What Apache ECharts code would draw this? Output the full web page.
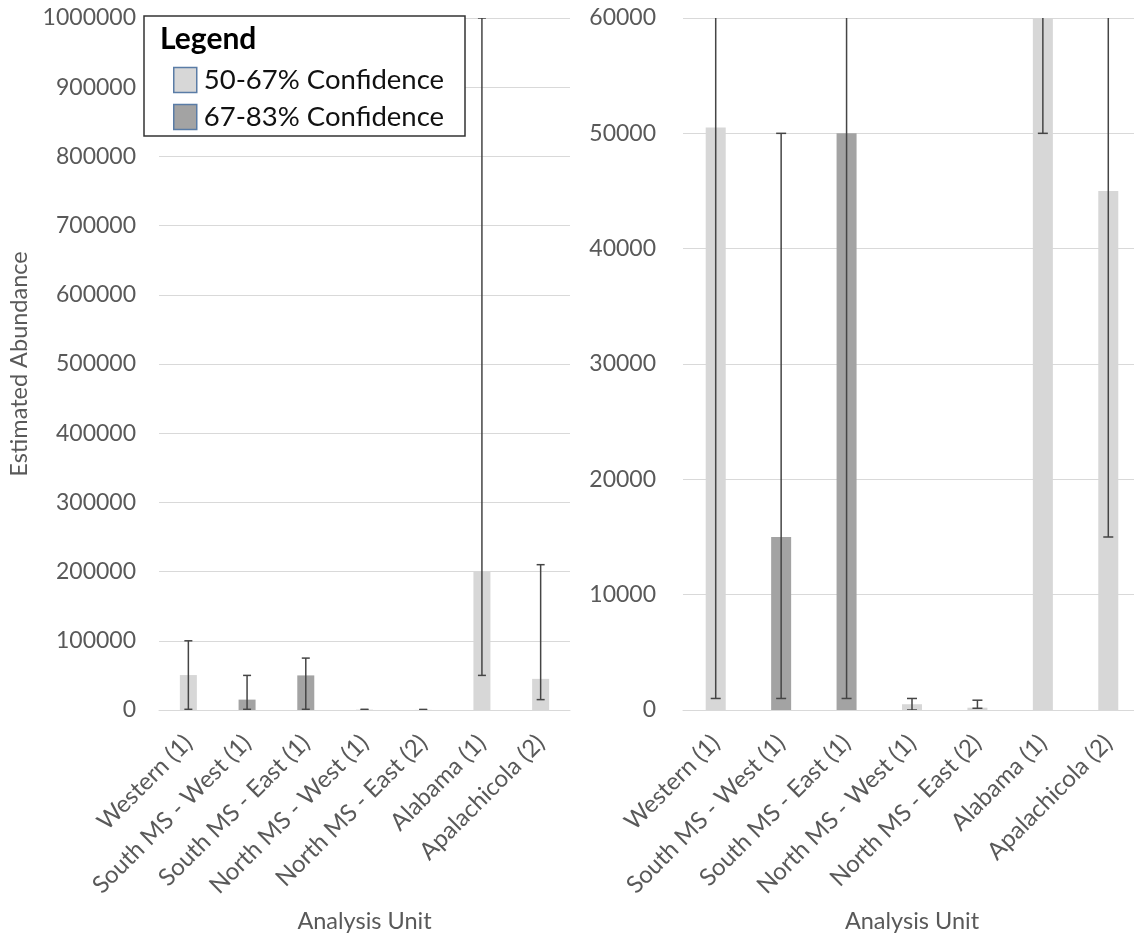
<!DOCTYPE html>
<html>
<head>
<meta charset="utf-8">
<script src="https://cdn.jsdelivr.net/npm/echarts@6/dist/echarts.min.js"></script>
<style>
html,body{margin:0;padding:0;background:#fff;}
#chart{width:1134px;height:935px;}
</style>
</head>
<body>
<div id="chart"></div>
<script>
// ---- data ----
const categories = ['Western (1)', 'South MS - West (1)', 'South MS - East (1)', 'North MS - West (1)', 'North MS - East (2)', 'Alabama (1)', 'Apalachicola (2)'];
const abundance = [50500, 15000, 50000, 500, 200, 200000, 45000];
const errLow = [1000, 1000, 1000, 0, 150, 50000, 15000];
const errHigh = [100000, 50000, 75000, 1000, 850, 1000000, 210000];
const confidenceClass = ['50-67% Confidence', '67-83% Confidence', '67-83% Confidence', '50-67% Confidence', '50-67% Confidence', '50-67% Confidence', '50-67% Confidence'];
const seriesNames = ['50-67% Confidence', '67-83% Confidence'];
const leftAxisMax = 1000000, leftAxisInterval = 100000;
const rightAxisMax = 60000, rightAxisInterval = 10000;

// ---- styles ----
const FONT = 'Lato';
const TXT = '#595959';
const GRIDC = '#d9d9d9';
const barColors = {'50-67% Confidence': '#d7d7d7', '67-83% Confidence': '#a3a3a3'};
const swatchBorder = '#5a7ca6';

const chart = echarts.init(document.getElementById('chart'), null, {renderer: 'canvas'});

function xAxisFor(gridIndex) {
  return {
    type: 'category', gridIndex, data: categories,
    name: 'Analysis Unit', nameLocation: 'middle', nameGap: 199,
    nameTextStyle: {fontFamily: FONT, fontSize: 23.5, color: TXT},
    axisLine: {lineStyle: {color: GRIDC, width: 1}},
    axisTick: {show: false},
    axisLabel: {rotate: 45, interval: 0, margin: 29, fontFamily: FONT, fontSize: 24, color: TXT}
  };
}
function yAxisFor(gridIndex, max, interval, margin, withName) {
  const ax = {
    type: 'value', gridIndex, min: 0, max, interval,
    axisLine: {show: false}, axisTick: {show: false},
    splitLine: {lineStyle: {color: GRIDC, width: 1}},
    axisLabel: {margin, fontFamily: FONT, fontSize: 23, color: TXT, formatter: v => String(v)}
  };
  if (withName) {
    ax.name = 'Estimated Abundance';
    ax.nameLocation = 'middle';
    ax.nameGap = 128;
    ax.nameRotate = 90;
    ax.nameTextStyle = {fontFamily: FONT, fontSize: 23.5, color: TXT};
  }
  return ax;
}

function barSeries(gridIdx, barWidth) {
  return seriesNames.map(name => ({
    type: 'bar', name,
    xAxisIndex: gridIdx, yAxisIndex: gridIdx,
    barWidth, barGap: '-100%',
    clip: true,
    itemStyle: {color: barColors[name]},
    data: abundance.map((v, i) => confidenceClass[i] === name ? v : '-'),
    z: 2
  }));
}

function errSeries(gridIdx, capHalf) {
  return {
    type: 'custom',
    xAxisIndex: gridIdx, yAxisIndex: gridIdx,
    clip: true, z: 5,
    encode: {x: 0, y: [1, 2]},
    data: categories.map((c, i) => [i, errLow[i], errHigh[i]]),
    renderItem: function (params, api) {
      const lo = api.coord([api.value(0), api.value(1)]);
      const hi = api.coord([api.value(0), api.value(2)]);
      const st = {stroke: '#454545', lineWidth: 1.5, fill: null};
      return {
        type: 'group',
        children: [
          {type: 'line', shape: {x1: lo[0], y1: lo[1], x2: hi[0], y2: hi[1]}, style: st},
          {type: 'line', shape: {x1: lo[0] - capHalf, y1: lo[1], x2: lo[0] + capHalf, y2: lo[1]}, style: st},
          {type: 'line', shape: {x1: hi[0] - capHalf, y1: hi[1], x2: hi[0] + capHalf, y2: hi[1]}, style: st}
        ]
      };
    }
  };
}

const option = {
  animation: false,
  backgroundColor: '#ffffff',
  grid: [
    {left: 159, top: 18, width: 411, height: 692, outerBoundsMode: 'none', containLabel: false},
    {left: 683, top: 18, width: 458, height: 692, outerBoundsMode: 'none', containLabel: false}
  ],
  xAxis: [xAxisFor(0), xAxisFor(1)],
  yAxis: [
    yAxisFor(0, leftAxisMax, leftAxisInterval, 23, true),
    yAxisFor(1, rightAxisMax, rightAxisInterval, 27, false)
  ],
  graphic: [
    {type: 'rect', z: 8, shape: {x: 144, y: 16, width: 321, height: 120},
     style: {fill: '#ffffff', stroke: '#333333', lineWidth: 1.5}},
    {type: 'text', z: 9, left: 160, top: 24,
     style: {text: 'Legend', fontFamily: FONT, fontWeight: 'bold', fontSize: 30, fill: '#000000'}}
  ],
  legend: {
    z: 10,
    orient: 'vertical',
    left: 173, top: 66,
    padding: 0,
    itemWidth: 23, itemHeight: 25, itemGap: 9,
    textStyle: {fontFamily: FONT, fontSize: 27.5, color: '#111111', padding: [0, 0, 0, 2]},
    data: seriesNames.map(n => ({name: n, icon: 'rect',
      itemStyle: {color: barColors[n], borderColor: swatchBorder, borderWidth: 1.5}}))
  },
  series: [
    ...barSeries(0, 17), errSeries(0, 4),
    ...barSeries(1, 20), errSeries(1, 5)
  ]
};
chart.setOption(option);
</script>
</body>
</html>
